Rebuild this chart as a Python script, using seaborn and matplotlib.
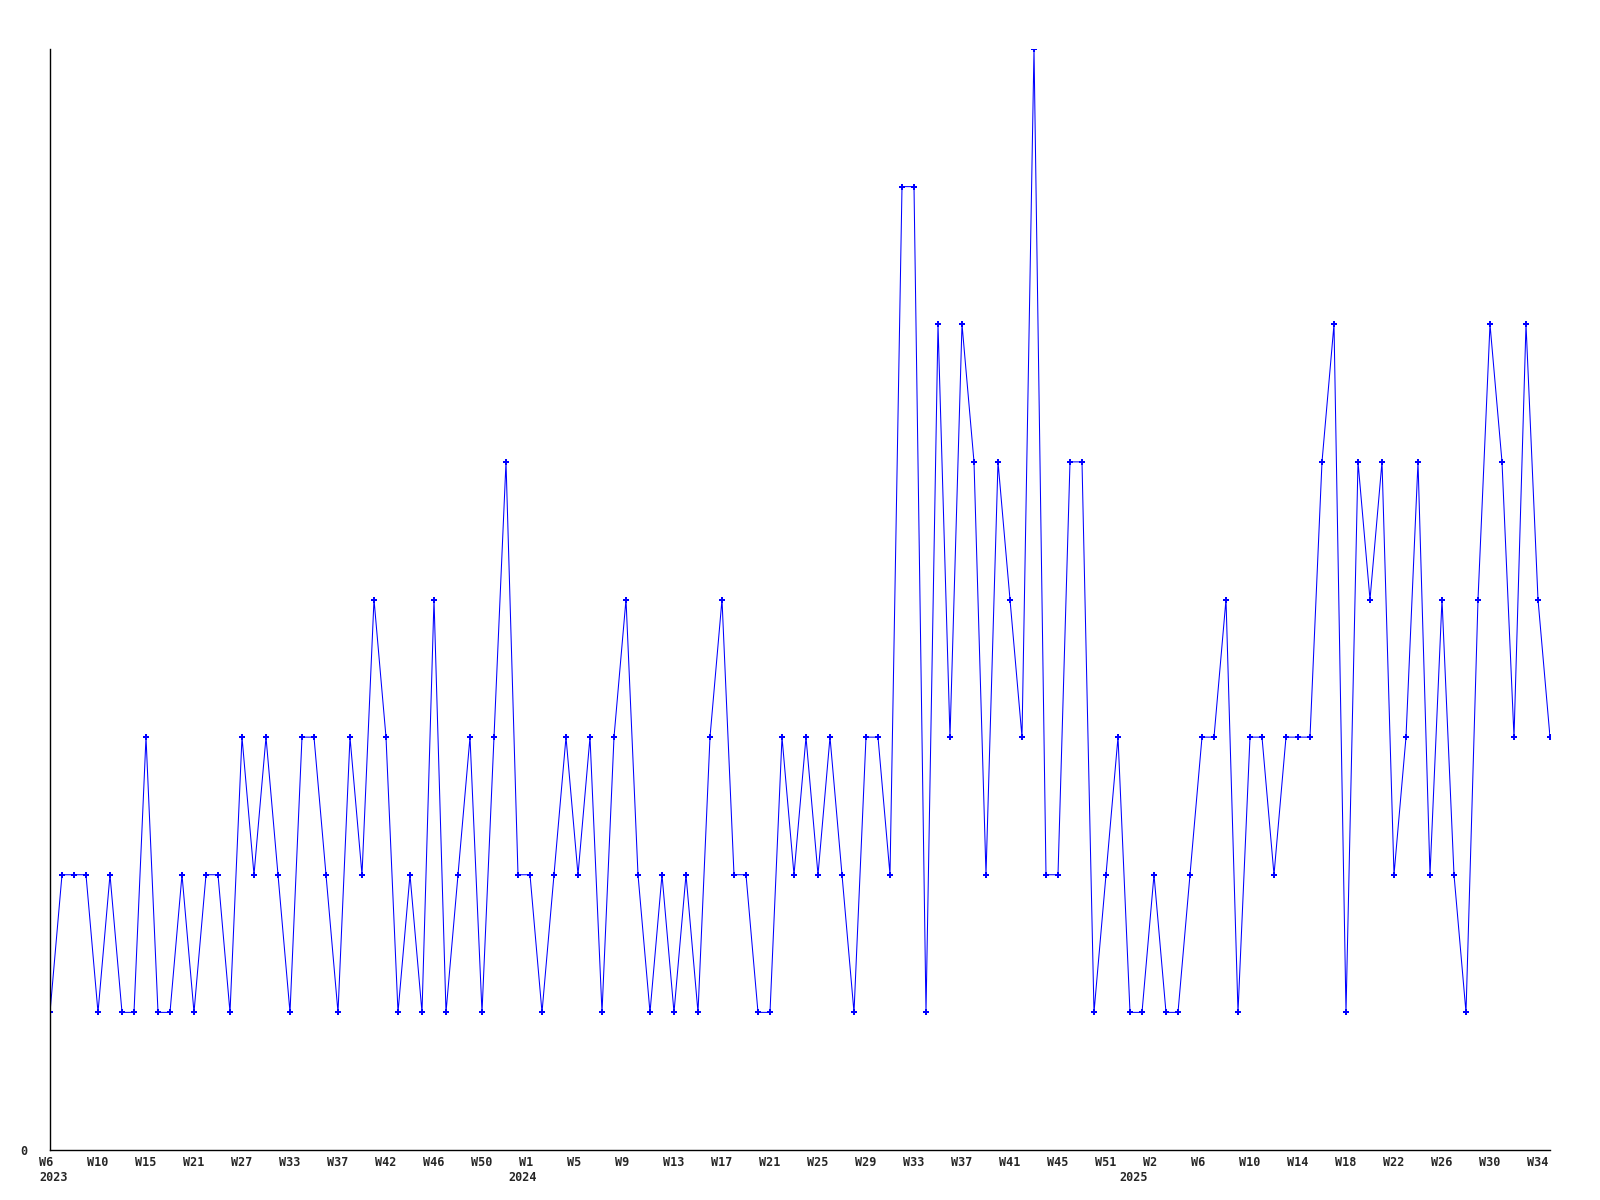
import matplotlib
matplotlib.use('Agg')
import matplotlib.pyplot as plt
from matplotlib.transforms import ScaledTranslation
import seaborn as sns
import pandas as pd

# weekly counts
counts = [1, 2, 2, 2, 1, 2, 1, 1, 3, 1, 1, 2, 1, 2, 2, 1, 3, 2, 3, 2,
          1, 3, 3, 2, 1, 3, 2, 4, 3, 1, 2, 1, 4, 1, 2, 3, 1, 3, 5, 2,
          2, 1, 2, 3, 2, 3, 1, 3, 4, 2, 1, 2, 1, 2, 1, 3, 4, 2, 2, 1,
          1, 3, 2, 3, 2, 3, 2, 1, 3, 3, 2, 7, 7, 1, 6, 3, 6, 5, 2, 5,
          4, 3, 8, 2, 2, 5, 5, 1, 2, 3, 1, 1, 2, 1, 1, 2, 3, 3, 4, 1,
          3, 3, 2, 3, 3, 3, 5, 6, 1, 5, 4, 5, 2, 3, 5, 2, 4, 2, 1, 4,
          6, 5, 3, 6, 4, 3]

week_labels = ["W6", "W10", "W15", "W21", "W27", "W33", "W37", "W42", "W46", "W50",
               "W1", "W5", "W9", "W13", "W17", "W21", "W25", "W29", "W33", "W37",
               "W41", "W45", "W51", "W2", "W6", "W10", "W14", "W18", "W22", "W26",
               "W30", "W34"]
years = ["2023", "2024", "2025"]
year_tick_idx = [0, 10, 23]

df = pd.DataFrame({'idx': range(len(counts)), 'count': counts})

sns.set_style('white')
plt.rcParams['font.family'] = ['DejaVu Sans Mono']

fig = plt.figure(figsize=(16, 12), dpi=100)
ax = fig.add_axes([50 / 1600, 50 / 1200, 1500 / 1600, 1101 / 1200])

sns.lineplot(data=df, x='idx', y='count', ax=ax, color='#0000ff', linewidth=0.75,
             marker='P', markersize=4.5, markeredgewidth=0)

ax.set_xlim(0, len(counts) - 1)
ax.set_ylim(0, 8)
sns.despine(ax=ax)
for s in ['left', 'bottom']:
    ax.spines[s].set_color('black')
    ax.spines[s].set_linewidth(1.0)

ticks = list(range(0, len(counts), 4))[:len(week_labels)]
ax.set_xticks(ticks)
ax.set_xticklabels(week_labels, fontsize=8.5, fontweight='bold', ha='left')
ax.tick_params(axis='x', length=0, pad=4)
off = ScaledTranslation(-11 / 100, 0, fig.dpi_scale_trans)
for lab in ax.get_xticklabels():
    lab.set_transform(lab.get_transform() + off)

ax.set_yticks([0])
ax.set_yticklabels(['0'], fontsize=8.5, fontweight='bold')
ax.tick_params(axis='y', length=0, pad=16)

year_shift = [-11, -22, -35]
for y, ti, sh in zip(years, year_tick_idx, year_shift):
    ax.annotate(y, xy=(ticks[ti], 0), xycoords=('data', 'axes fraction'),
                xytext=(sh * 0.72, -19.5), textcoords='offset points',
                ha='left', va='center', fontsize=8.5, fontweight='bold')

ax.set_xlabel('')
ax.set_ylabel('')

plt.savefig('out.png', dpi=100)
plt.close()
